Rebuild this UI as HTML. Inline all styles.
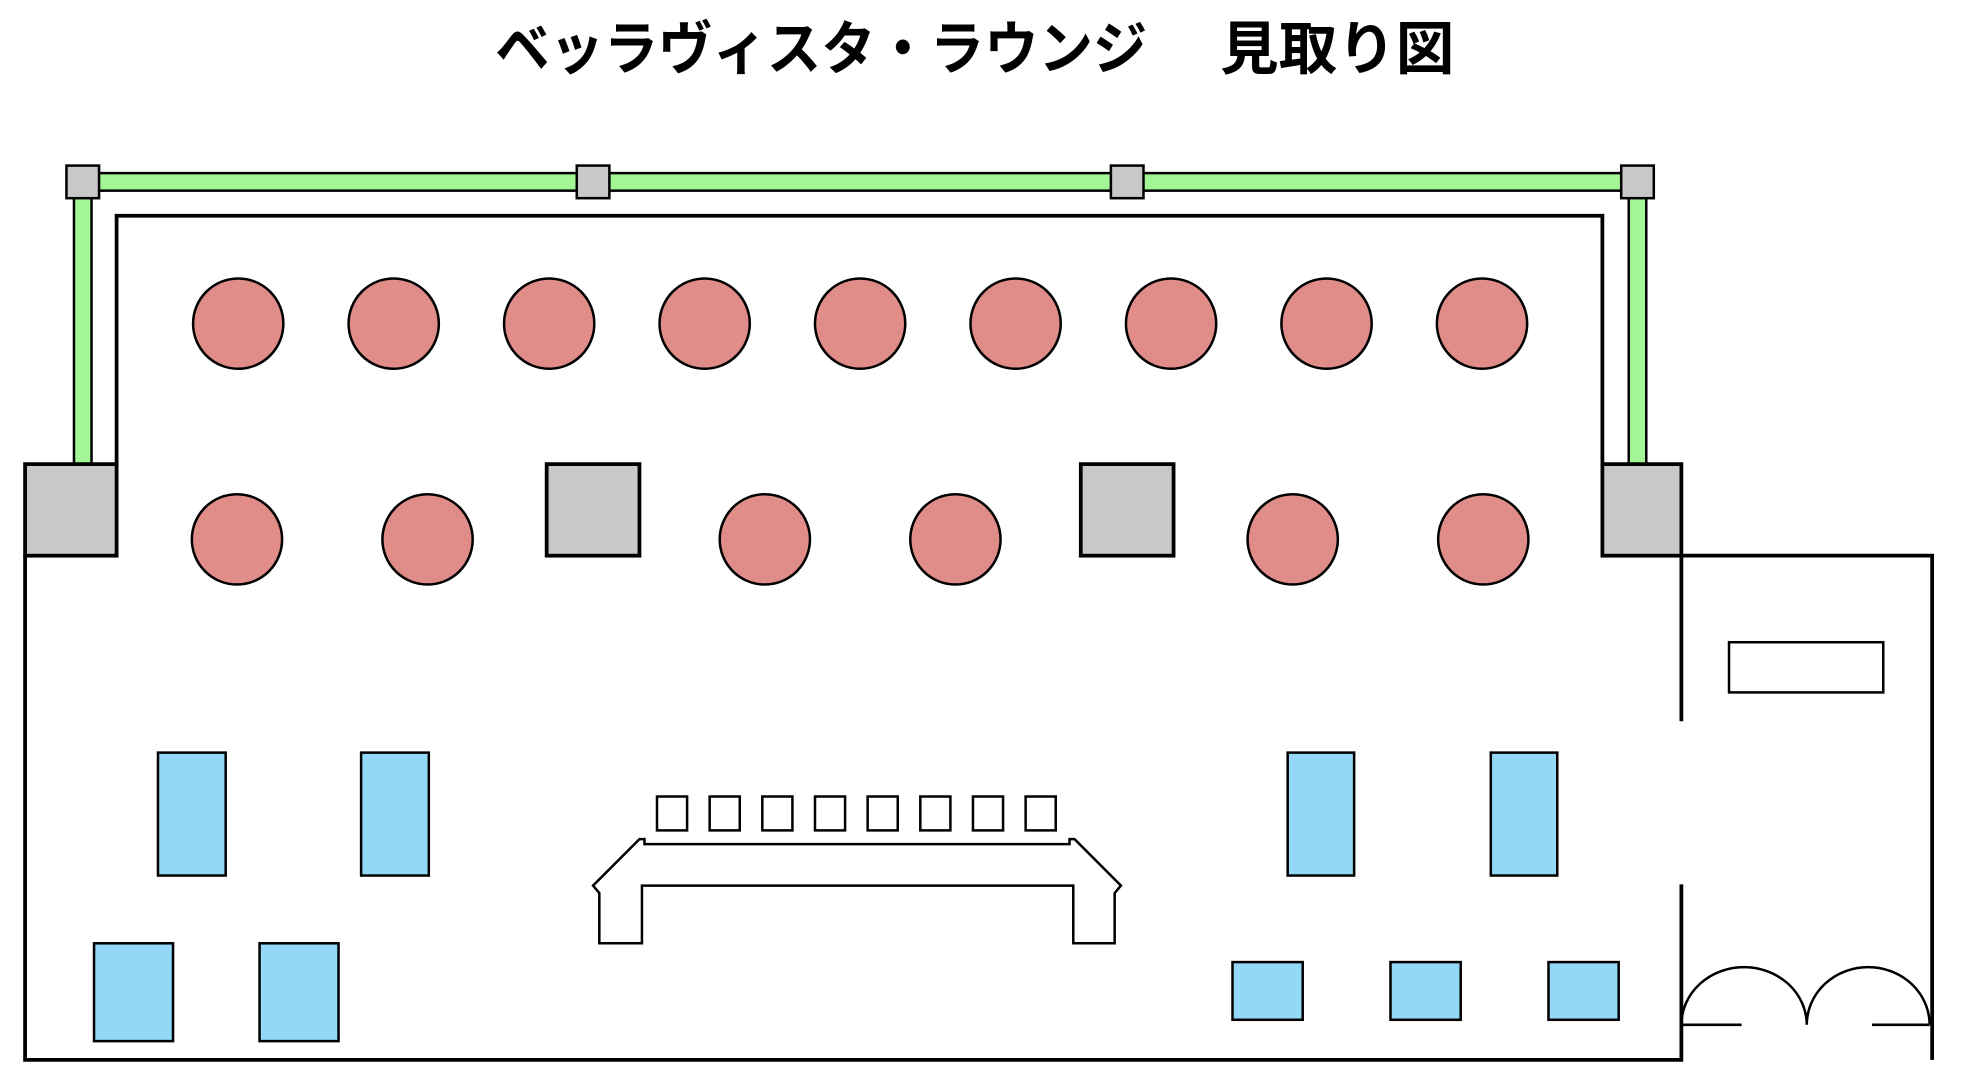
<!DOCTYPE html>
<html><head><meta charset="utf-8"><style>html,body{margin:0;padding:0;background:#fff}svg{display:block}</style></head>
<body>
<svg width="1966" height="1080" viewBox="0 0 1568 861" preserveAspectRatio="none" xmlns="http://www.w3.org/2000/svg">
<g font-family="'Liberation Sans','Noto Sans CJK JP',sans-serif" font-weight="bold" font-size="46" fill="#000">
<text x="395" y="55" textLength="520" lengthAdjust="spacingAndGlyphs">ベッラヴィスタ・ラウンジ</text>
<text x="973" y="55" textLength="187" lengthAdjust="spacingAndGlyphs">見取り図</text>
</g>
<g stroke="#000" stroke-width="2">
<rect x="66" y="138" width="1240" height="14" fill="#a2f794"/>
<rect x="59" y="152" width="14" height="218" fill="#a2f794"/>
<rect x="1299" y="152" width="14" height="218" fill="#a2f794"/>
<g fill="#c8c8c8">
<rect x="53" y="132" width="26" height="26"/><rect x="460" y="132" width="26" height="26"/>
<rect x="886" y="132" width="26" height="26"/><rect x="1293" y="132" width="26" height="26"/>
</g>
</g>
<g fill="none" stroke="#000" stroke-width="3">
<path d="M93 370V172H1278V370"/>
<path d="M20 443V845H1341V705M1341 575V443H1541V845"/>
</g>
<g fill="#c8c8c8" stroke="#000" stroke-width="3">
<rect x="20" y="370" width="73" height="73"/><rect x="1278" y="370" width="63" height="73"/>
<rect x="436" y="370" width="74" height="73"/><rect x="862" y="370" width="74" height="73"/>
</g>
<g fill="#e08c88" stroke="#000" stroke-width="2">
<circle cx="190" cy="258" r="36"/><circle cx="314" cy="258" r="36"/><circle cx="438" cy="258" r="36"/>
<circle cx="562" cy="258" r="36"/><circle cx="686" cy="258" r="36"/><circle cx="810" cy="258" r="36"/>
<circle cx="934" cy="258" r="36"/><circle cx="1058" cy="258" r="36"/><circle cx="1182" cy="258" r="36"/>
<circle cx="189" cy="430" r="36"/><circle cx="341" cy="430" r="36"/><circle cx="610" cy="430" r="36"/>
<circle cx="762" cy="430" r="36"/><circle cx="1031" cy="430" r="36"/><circle cx="1183" cy="430" r="36"/>
</g>
<g fill="#94d8f8" stroke="#000" stroke-width="2">
<rect x="126" y="600" width="54" height="98"/><rect x="288" y="600" width="54" height="98"/>
<rect x="1027" y="600" width="53" height="98"/><rect x="1189" y="600" width="53" height="98"/>
<rect x="75" y="752" width="63" height="78"/><rect x="207" y="752" width="63" height="78"/>
<rect x="983" y="767" width="56" height="46"/><rect x="1109" y="767" width="56" height="46"/><rect x="1235" y="767" width="56" height="46"/>
</g>
<g fill="#fff" stroke="#000" stroke-width="2">
<rect x="1379" y="512" width="123" height="40"/>
<rect x="524" y="635" width="24" height="27"/><rect x="566" y="635" width="24" height="27"/>
<rect x="608" y="635" width="24" height="27"/><rect x="650" y="635" width="24" height="27"/>
<rect x="692" y="635" width="24" height="27"/><rect x="734" y="635" width="24" height="27"/>
<rect x="776" y="635" width="24" height="27"/><rect x="818" y="635" width="24" height="27"/>
<path d="M478 752V712L473 706L510 669H514V673H853V669H857L894 706L889 712V752H856V706H512V752Z"/>
</g>
<g fill="none" stroke="#000" stroke-width="2">
<path d="M1341 817A50 46 0 0 1 1441 817A49 46 0 0 1 1539 817"/>
<path d="M1341 817H1389M1493 817H1539"/>
</g>
</svg>
</body></html>
